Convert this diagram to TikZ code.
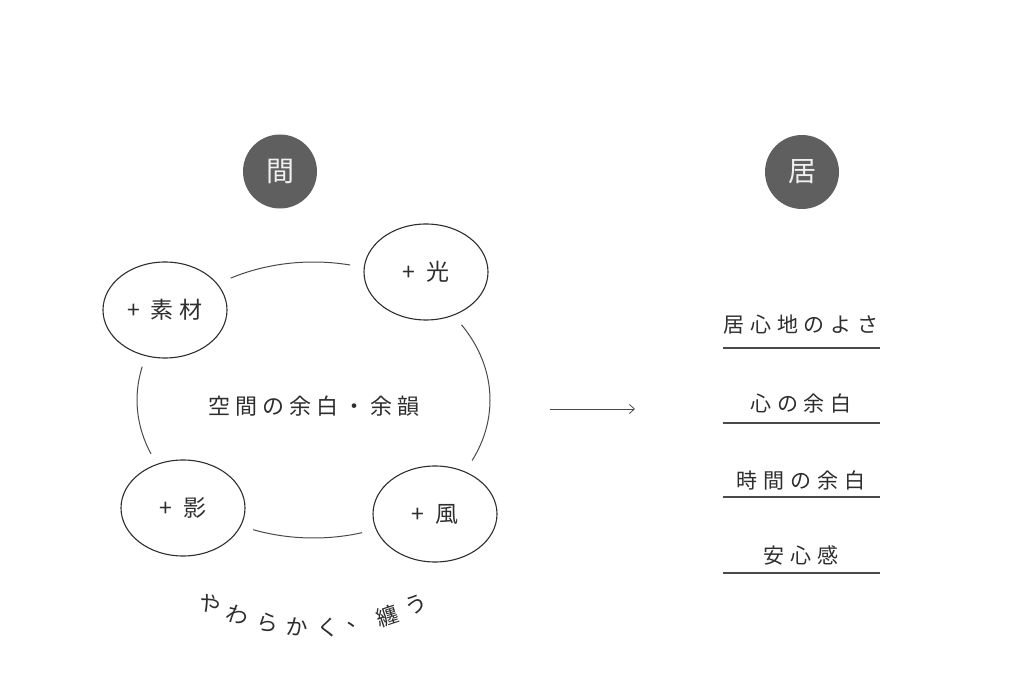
\documentclass[tikz,border=0pt]{standalone}
\usepackage{fontspec}
\usepackage{xcolor}
\usetikzlibrary{positioning,calc,arrows.meta,shapes.geometric}
\newfontfamily\jp{Noto Sans CJK JP}
\newfontfamily\jpwide[LetterSpace=28]{Noto Sans CJK JP}
\newfontfamily\jpmid[LetterSpace=23]{Noto Sans CJK JP}
\definecolor{ink}{HTML}{2E2E2E}
\definecolor{disc}{HTML}{5F5F5F}
\definecolor{linegray}{HTML}{4A4A4A}

\begin{document}
\begin{tikzpicture}[x=1pt,y=1pt,
    head/.style={circle, fill=disc, text=white!94!black, minimum size=74pt, inner sep=0pt, font=\jp\fontsize{28}{28}\selectfont},
    bubble/.style={ellipse, draw=ink, line width=1.1pt, minimum width=124pt, minimum height=96pt, inner sep=0pt, text=ink, font=\jpmid\fontsize{23}{23}\selectfont},
    ringline/.style={draw=linegray, line width=1pt},
    item/.style={inner sep=0pt, text=ink, font=\jpwide\fontsize{21}{21}\selectfont},
    underline/.style={draw=linegray, line width=1.3pt},
    wrapchar/.style={inner sep=0pt, text=ink, font=\jp\fontsize{22}{22}\selectfont}]
    \path[use as bounding box, fill=white] (0,0) rectangle (1024,691);

    % heads
    \node[head] (ma) at (280,519.5) {間};
    \node[head] (iru) at (802,519) {居};

    % bubbles
    \node[bubble] (sozai) at (165,381) {+ 素材};
    \node[bubble] (hikari) at (426,419) {+ 光};
    \node[bubble] (kage) at (183,183) {+ 影};
    \node[bubble] (kaze) at (435,177) {+ 風};

    % ring between the bubbles
    \coordinate (ring) at (313.5,291);
    \foreach \a/\b in {118/78, 33/-26, 166/203, 250/286}
        \draw[ringline] ($(ring)+(\a:176.5pt and 138pt)$) arc[start angle=\a, end angle=\b, x radius=176.5pt, y radius=138pt];
    \node[item, font=\jpmid\fontsize{22}{22}\selectfont] (yohaku) at (314,285) {空間の余白・余韻};

    % arrow
    \coordinate (arrS) at (550,282);
    \coordinate (arrE) at (635,282);
    \draw[linegray, line width=0.8pt, -{Straight Barb[length=5pt,width=9pt]}] (arrS) -- (arrE);

    % list
    \foreach \name/\txt/\y/\d in {q1/居心地のよさ/366/23, q2/心の余白/288/20, q3/時間の余白/211/17, q4/安心感/136/18} {
        \node[item] (\name) at (801,\y) {\txt};
        \draw[underline] ([shift={(-78.5,-\d)}]\name.center) -- ([shift={(78.5,-\d)}]\name.center);
    }

    % curved line of text
    \coordinate (wrap) at (314,299);
    \foreach \c [count=\i] in {や,わ,ら,か,く,、,纏,う} {
        \pgfmathsetmacro\ang{243.8+(\i-1)*7.4}
        \node[wrapchar, rotate=\ang+90] (w\i) at ($(wrap)+(\ang:236pt)$) {\c};
    }
\end{tikzpicture}
\end{document}
